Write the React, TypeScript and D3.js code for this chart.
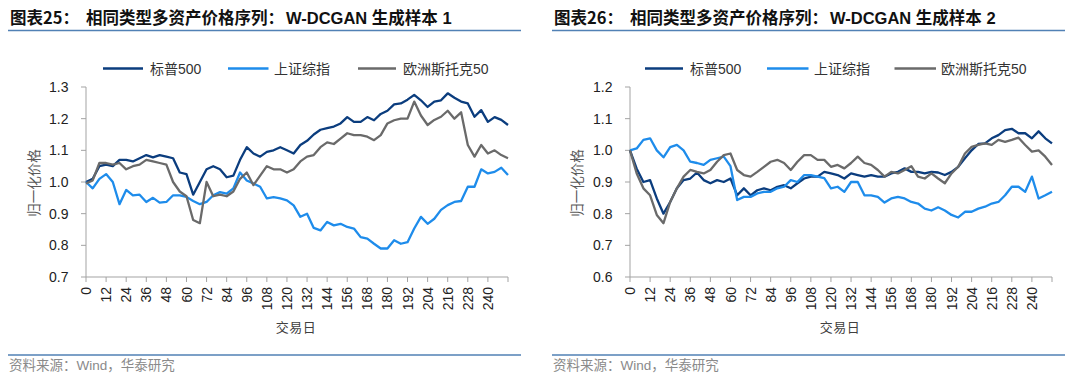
import React from "react";
import * as d3 from "d3";

// ---------- data (sampled every 4 trading days, day 0..252) ----------
const DAY_STEP = 4;
const seriesNames = ["标普500", "上证综指", "欧洲斯托克50"];
const xTickValues = [0, 12, 24, 36, 48, 60, 72, 84, 96, 108, 120, 132, 144, 156, 168, 180, 192, 204, 216, 228, 240];

// Sample 1
const sp500S1 = [
  1.0, 1.01, 1.05, 1.055, 1.05, 1.07, 1.07, 1.065, 1.075, 1.085, 1.078, 1.085, 1.08, 1.075, 1.03, 1.025,
  0.96, 1.0, 1.04, 1.05, 1.04, 1.015, 1.02, 1.07, 1.11, 1.09, 1.08, 1.095, 1.1, 1.11, 1.1, 1.09,
  1.117, 1.13, 1.15, 1.165, 1.17, 1.175, 1.185, 1.205, 1.19, 1.19, 1.205, 1.195, 1.215, 1.225, 1.245, 1.248,
  1.26, 1.275, 1.258, 1.237, 1.254, 1.258, 1.28, 1.266, 1.254, 1.248, 1.206, 1.227, 1.19, 1.205, 1.196, 1.18,
];
const sseS1 = [
  1.0, 0.98, 1.01, 1.025, 1.0, 0.93, 0.975, 0.958, 0.96, 0.937, 0.95, 0.935, 0.937, 0.958, 0.958, 0.953,
  0.94, 0.93, 0.937, 0.958, 0.968, 0.963, 0.98, 1.03, 1.005, 0.995, 0.985, 0.948, 0.952, 0.948, 0.942, 0.926,
  0.89, 0.9, 0.855, 0.847, 0.874, 0.863, 0.868, 0.858, 0.853, 0.826, 0.821, 0.805, 0.79, 0.79, 0.816, 0.805,
  0.81, 0.853, 0.89, 0.868, 0.884, 0.912, 0.927, 0.937, 0.94, 0.985, 0.985, 1.04, 1.027, 1.032, 1.045, 1.022,
];
const stoxxS1 = [
  0.995, 1.005, 1.06, 1.06, 1.055, 1.06, 1.04, 1.05, 1.055, 1.07, 1.065, 1.06, 1.055, 1.0, 0.97, 0.955,
  0.88, 0.87, 1.0, 0.955, 0.96, 0.955, 0.97, 1.01, 1.03, 0.99, 1.02, 1.05, 1.04, 1.04, 1.03, 1.04,
  1.065, 1.08, 1.085, 1.11, 1.125, 1.12, 1.137, 1.154, 1.148, 1.148, 1.143, 1.132, 1.148, 1.185, 1.195, 1.2,
  1.2, 1.254, 1.21, 1.18, 1.196, 1.206, 1.225, 1.2, 1.22, 1.117, 1.08, 1.117, 1.09, 1.1, 1.085, 1.075,
];

// Sample 2
const sp500S2 = [
  1.0, 0.942, 0.9, 0.906, 0.848, 0.8, 0.837, 0.88, 0.906, 0.911, 0.93, 0.906, 0.896, 0.906, 0.9, 0.911,
  0.858, 0.88, 0.858, 0.874, 0.88, 0.874, 0.885, 0.89, 0.88, 0.896, 0.911, 0.917, 0.917, 0.932, 0.927, 0.922,
  0.911, 0.927, 0.922, 0.917, 0.922, 0.917, 0.917, 0.927, 0.932, 0.943, 0.932, 0.932, 0.927, 0.932, 0.93, 0.922,
  0.932, 0.948, 0.975, 1.0, 1.02, 1.022, 1.038, 1.048, 1.064, 1.068, 1.054, 1.054, 1.038, 1.06, 1.038, 1.022,
];
const sseS2 = [
  1.0, 1.006, 1.033, 1.038, 1.0, 0.978, 1.01, 1.017, 1.0, 0.964, 0.96, 0.954, 0.97, 0.975, 0.98, 0.95,
  0.843, 0.853, 0.853, 0.864, 0.869, 0.869, 0.88, 0.885, 0.906, 0.9, 0.922, 0.922, 0.917, 0.912, 0.88, 0.885,
  0.869, 0.9, 0.9, 0.858, 0.858, 0.853, 0.835, 0.848, 0.853, 0.848, 0.837, 0.832, 0.816, 0.81, 0.82, 0.81,
  0.796, 0.788, 0.806, 0.806, 0.816, 0.822, 0.832, 0.837, 0.858, 0.885, 0.885, 0.869, 0.917, 0.848, 0.858, 0.869,
];
const stoxxS2 = [
  1.0, 0.927, 0.88, 0.858, 0.796, 0.77, 0.837, 0.88, 0.917, 0.938, 0.932, 0.927, 0.938, 0.964, 0.985, 0.99,
  0.938, 0.922, 0.917, 0.932, 0.948, 0.964, 0.97, 0.96, 0.938, 0.964, 0.985, 0.985, 0.97, 0.97, 0.948, 0.954,
  0.943, 0.96, 0.98, 0.96, 0.954, 0.938, 0.917, 0.932, 0.927, 0.938, 0.95, 0.917, 0.911, 0.927, 0.911, 0.896,
  0.927, 0.948, 0.99, 1.011, 1.017, 1.022, 1.017, 1.033, 1.027, 1.033, 1.04, 1.017, 0.996, 1.0, 0.98, 0.954,
];

const yTicksS1 = [0.7, 0.8, 0.9, 1.0, 1.1, 1.2, 1.3];
const yTicksS2 = [0.6, 0.7, 0.8, 0.9, 1.0, 1.1, 1.2];

// ---------- styles ----------
const COLORS = ["#0B3D7E", "#1E8CEB", "#6A6A6A"];
const FONT = "'Liberation Sans', Arial, 'Noto Sans CJK SC', sans-serif";
const CJK = "'Noto Sans CJK SC', 'Liberation Sans', sans-serif";
const AXIS = "#A3A3A3";
const RULE = "#5181B5";

type PanelProps = {
  ox: number;
  num: string;
  sampleNo: string;
  yTicks: number[];
  series: number[][];
  legendLines: [number, number][];
  legendText: number[];
};

function Panel({ ox, num, sampleNo, yTicks, series, legendLines, legendText }: PanelProps) {
  const left = 86 + ox;
  const right = 508 + ox;
  const top = 87;
  const bottom = 277;
  const x = d3.scaleLinear().domain([0, 252]).range([left, right]);
  const y = d3
    .scaleLinear()
    .domain([yTicks[0], yTicks[yTicks.length - 1]])
    .range([bottom, top]);
  const line = d3
    .line<number>()
    .x((_, i) => x(i * DAY_STEP))
    .y((v) => y(v));
  const fmt = d3.format(".1f");
  const allTicks = [...xTickValues, 252];

  return (
    <g>
      {/* title */}
      <text y={24} fontFamily={CJK} fontWeight={700} fontSize={16.5} fill="#111">
        <tspan x={10 + ox}>{`图表${num}：`}</tspan>
        <tspan x={86 + ox}>相同类型多资产价格序列：</tspan>
        <tspan x={286 + ox} fontFamily={FONT}>{`W-DCGAN 生成样本 ${sampleNo}`}</tspan>
      </text>
      <line x1={8 + ox} x2={521 + ox} y1={30.5} y2={30.5} stroke={RULE} strokeWidth={1.5} />

      {/* legend */}
      {seriesNames.map((name, i) => (
        <g key={name}>
          <line
            x1={legendLines[i][0]}
            x2={legendLines[i][1]}
            y1={68.5}
            y2={68.5}
            stroke={COLORS[i]}
            strokeWidth={2.5}
          />
          <text x={legendText[i]} y={73.5} fontFamily={FONT} fontSize={14} fill="#333">
            {name}
          </text>
        </g>
      ))}

      {/* y axis */}
      <line x1={left} x2={left} y1={top} y2={bottom} stroke={AXIS} strokeWidth={1} />
      {yTicks.map((t) => (
        <g key={t}>
          <line x1={left - 5} x2={left} y1={y(t)} y2={y(t)} stroke={AXIS} strokeWidth={1} />
          <text
            x={left - 17.5}
            y={y(t)}
            dy="0.36em"
            textAnchor="end"
            fontFamily={FONT}
            fontSize={14}
            fill="#222"
          >
            {fmt(t)}
          </text>
        </g>
      ))}
      <text
        transform={`translate(${34 + ox * 1.0 - (ox > 0 ? 0.5 : 0)},183) rotate(-90)`}
        textAnchor="middle"
        dy="0.35em"
        fontFamily={CJK}
        fontSize={13.5}
        fill="#595959"
      >
        归一化价格
      </text>

      {/* x axis */}
      <line x1={left} x2={right} y1={bottom} y2={bottom} stroke={AXIS} strokeWidth={1} />
      {allTicks.map((t) => (
        <line key={t} x1={x(t)} x2={x(t)} y1={bottom} y2={bottom + 5} stroke={AXIS} strokeWidth={1} />
      ))}
      {xTickValues.map((t) => (
        <text
          key={t}
          transform={`translate(${x(t)},${bottom + 10}) rotate(-90)`}
          textAnchor="end"
          dy="0.36em"
          fontFamily={FONT}
          fontSize={14}
          fill="#222"
        >
          {String(t)}
        </text>
      ))}
      <text
        x={296 + ox}
        y={332}
        textAnchor="middle"
        fontFamily={CJK}
        fontSize={13}
        letterSpacing={0.5}
        fill="#404040"
      >
        交易日
      </text>

      {/* series */}
      {series.map((s, i) => (
        <path
          key={i}
          d={line(s) || ""}
          fill="none"
          stroke={COLORS[i]}
          strokeWidth={2.3}
          strokeLinejoin="round"
        />
      ))}

      {/* footer */}
      <line x1={8 + ox} x2={521 + ox} y1={355} y2={355} stroke={RULE} strokeWidth={1.5} />
      <text x={9 + ox} y={370} fontFamily={FONT} fontSize={13.5} fill="#8A8A8A">
        资料来源：Wind，华泰研究
      </text>
    </g>
  );
}

export default function App() {
  return (
    <div style={{ position: "absolute", left: 0, top: 0 }}>
      <svg width={1080} height={382} viewBox="0 0 1080 382" style={{ display: "block", background: "#fff" }}>
        <rect width={1080} height={382} fill="#fff" />
        <Panel
          ox={0}
          num="25"
          sampleNo="1"
          yTicks={yTicksS1}
          series={[sp500S1, sseS1, stoxxS1]}
          legendLines={[
            [103, 143],
            [228, 268.5],
            [358, 396],
          ]}
          legendText={[150, 274, 403]}
        />
        <Panel
          ox={544}
          num="26"
          sampleNo="2"
          yTicks={yTicksS2}
          series={[sp500S2, sseS2, stoxxS2]}
          legendLines={[
            [645, 683],
            [767, 808.5],
            [894.5, 936],
          ]}
          legendText={[690, 814, 941]}
        />
      </svg>
    </div>
  );
}
